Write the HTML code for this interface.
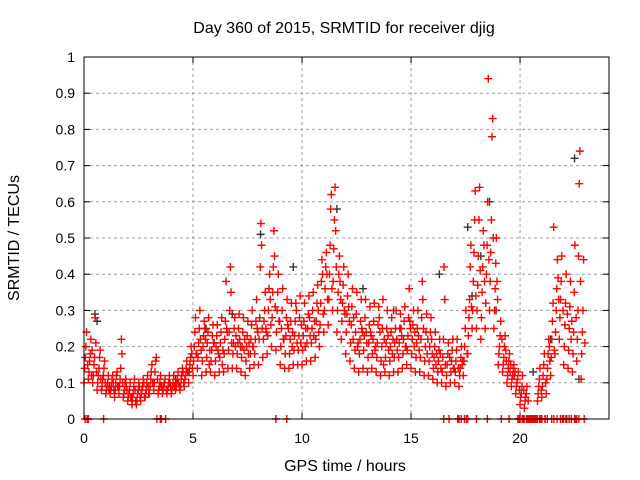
<!DOCTYPE html>
<html><head><meta charset="utf-8"><style>
body{margin:0;background:#fff}
svg{display:block}
text{font-family:"Liberation Sans",sans-serif;font-size:14px;fill:#000}
.big{font-size:16px}
</style></head><body>
<svg id="chart" width="640" height="480">
<text class="big" x="344" y="33" text-anchor="middle">Day 360 of 2015, SRMTID for receiver djig</text>
<text class="big" x="345" y="471" text-anchor="middle">GPS time / hours</text>
<text class="big" transform="translate(19,238) rotate(-90)" text-anchor="middle">SRMTID / TECUs</text>
<g id="grid"></g><g id="ticks"></g><g id="marks"></g>
<rect x="84" y="57" width="525" height="362" fill="none" stroke="#000" stroke-width="1"/>
</svg>
<script>
const xTicks=[0,5,10,15,20];
const yTicks=[0,0.1,0.2,0.3,0.4,0.5,0.6,0.7,0.8,0.9,1];
const yTickLabels=["0","0.1","0.2","0.3","0.4","0.5","0.6","0.7","0.8","0.9","1"];
const binStart=0, binStep=0.2;
const s1=[10,11,10,8,8,7,7,6,7,6,5,4,4,5,6,7,8,7,7,7,7,8,8,9,10,12,14,12,13,13,12,13,13,14,14,14,13,12,14,15,15,17,18,20,19,15,14,14,15,15,15,16,16,17,20,24,26,30,24,22,18,16,14,13,14,13,14,13,12,13,12,13,13,14,15,14,13,13,12,12,11,10,10,9,10,10,9,12,18,25,25,22,25,30,25,15,13,10,9,7,4,3,0,0,5,6,7,12,18,22,15,14,13,16,11];
const s2=[14,13,12,10,9,8,8,8,9,7,6,6,5,7,7,9,10,8,8,8,8,9,9,11,13,16,17,16,17,16,16,17,18,19,18,18,17,16,18,18,22,22,23,28,24,20,18,18,19,19,19,21,21,22,26,30,33,38,30,27,24,21,19,18,19,17,18,17,16,17,16,17,17,18,19,18,17,17,16,16,14,13,13,12,13,13,12,16,23,30,30,28,32,38,30,18,15,12,11,9,6,5,0,0,7,9,11,17,24,28,20,19,18,22,18];
const s3=[17,16,15,12,11,9,9,10,11,8,7,7,7,8,8,11,13,9,9,9,9,10,11,12,15,20,21,20,21,19,20,21,22,24,21,21,20,20,22,22,28,27,30,35,30,25,23,22,23,23,23,25,25,27,32,36,40,47,35,32,29,26,24,22,23,21,22,21,20,21,20,21,21,22,23,22,21,22,20,20,17,16,17,15,16,16,14,20,28,38,37,35,40,46,36,20,17,14,12,10,7,6,0,0,9,12,14,22,30,33,26,25,24,30,24];
const s4=[20,18,17,14,12,10,11,12,14,10,8,9,8,9,10,13,16,10,10,10,10,11,12,14,17,24,25,23,24,23,23,24,27,30,25,25,24,23,26,27,42,30,36,42,35,30,28,27,27,28,27,29,30,32,38,42,48,55,40,37,34,31,29,27,28,26,27,26,25,25,24,25,25,27,28,26,25,28,24,24,20,19,22,18,19,19,17,25,33,46,45,42,48,55,43,23,20,16,14,11,9,7,0,0,11,15,18,27,36,38,32,31,35,45,30];
const s5=[24,22,28,17,14,12,12,13,22,11,10,11,10,11,12,15,17,12,11,12,12,13,14,16,20,28,30,27,28,26,26,28,38,42,28,29,28,27,30,33,54,35,40,52,40,36,33,32,32,34,32,34,35,37,44,46,58,64,45,42,40,36,35,33,33,31,32,31,33,30,28,30,29,31,36,30,30,38,29,28,24,22,42,21,22,22,20,30,42,55,55,52,60,78,50,27,23,18,15,13,12,9,0,0,14,18,22,32,44,45,40,38,48,65,44];
const s6=[0,12,21,19,16,8,10,9,18,9,6,8,9,10,9,10,0,9,0,10,9,10,13,13,18,18,22,25,15,21,19,15,25,35,20,22,19,18,20,25,48,25,33,45,27,22,26,20,30,21,20,28,23,30,40,40,62,52,38,30,31,22,20,25,24,24,19,28,15,23,18,22,25,20,27,20,23,33,18,22,15,18,33,0,14,0,15,0,48,63,64,48,94,83,38,0,19,13,12,0,0,0,0,0,0,0,20,53,39,0,0,22,0,74,0];
const s7=[15,19,13,11,10,9,8,9,10,8,6,5,6,6,7,10,11,9,8,9,9,9,10,13,14,18,19,22,19,21,18,19,24,21,23,20,22,21,20,24,25,24,26,31,27,22,25,24,21,26,25,23,27,24,29,33,36,42,33,29,27,28,21,24,21,23,20,24,22,19,22,19,23,20,25,24,19,25,22,18,18,14,15,17,14,14,16,18,31,34,41,38,44,50,33,22,16,15,13,8,8,5,0,0,8,10,16,19,33,30,29,27,28,38,21];
const zeroT=[0.05,0.15,0.2,0.9,3.5,3.55,8.8,9.3,16.5,17.2,17.3,17.45,17.6,18.0,18.5,19.5,19.9,20.0,20.1,20.2,20.3,20.4,20.5,20.6,20.7,20.8,20.9,21.0,21.15,21.25,21.45,21.55,21.7,21.85,22.0,22.1,22.25,22.35,22.5,22.6,22.7];
const blackT=[0.5,0.6,2.2,4.2,5.6,6.8,8.1,9.6,11.6,12.8,14.2,16.3,17.6,17.8,18.2,18.6,18.9,20.6,21.4,22.5,22.7];
const blackV=[0.29,0.27,0.05,0.11,0.25,0.29,0.51,0.42,0.58,0.36,0.3,0.4,0.53,0.34,0.45,0.6,0.3,0.13,0.22,0.72,0.11];

const X0=84,X1=609,Y0=419,Y1=57,XMAX=24.08;
const xs=v=>X0+v/XMAX*(X1-X0);
const ys=v=>Y0-v*(Y0-Y1);
const NS='http://www.w3.org/2000/svg';
const grid=document.getElementById('grid'),ticks=document.getElementById('ticks'),marks=document.getElementById('marks');
function mk(tag,attrs,parent){const e=document.createElementNS(NS,tag);for(const k in attrs)e.setAttribute(k,attrs[k]);parent.appendChild(e);return e;}
xTicks.forEach(t=>{
  const x=xs(t);
  if(t>0){const g=mk('line',{x1:x,x2:x,y1:Y0,y2:Y1,stroke:'#a0a0a0','stroke-dasharray':'3,3'},grid);
  
  }
  const l=mk('text',{x:x,y:Y0+24,'text-anchor':'middle'},ticks);l.textContent=t;
  
  
  mk('line',{x1:x,x2:x,y1:Y0,y2:Y0-6,stroke:'#000'},ticks);
  mk('line',{x1:x,x2:x,y1:Y1,y2:Y1+6,stroke:'#000'},ticks);
});
yTicks.forEach((t,i)=>{
  const y=ys(t);
  if(i>0&&i<yTicks.length-1){const g=mk('line',{x1:X0,x2:X1,y1:y,y2:y,stroke:'#a0a0a0','stroke-dasharray':'3,3'},grid);
  
  }
  const l=mk('text',{x:75,y:y+5,'text-anchor':'end'},ticks);l.textContent=yTickLabels[i];
  
  
  mk('line',{x1:X0,x2:X0+6,y1:y,y2:y,stroke:'#000'},ticks);
  mk('line',{x1:X1,x2:X1-6,y1:y,y2:y,stroke:'#000'},ticks);
});
function plus(t,v,color,name){
  const x=xs(t),y=ys(v);
  const p=mk('path',{d:`M${x-4},${y}h8M${x},${y-4}v8`,stroke:color,'stroke-width':1.4,fill:'none'},marks);
  
  
}
blackT.forEach((t,i)=>plus(t,blackV[i],'#333','black-point'));
[s1,s2,s3,s4,s5,s6,s7].forEach((s,k)=>{
  s.forEach((v,i)=>{
    const t=binStart+i*binStep+k*binStep/7;
    plus(t,v/100,'#ff0000','red-point');
  });
});
zeroT.forEach(t=>plus(t,0,'#ff0000','zero-point'));
</script>
</body></html>
